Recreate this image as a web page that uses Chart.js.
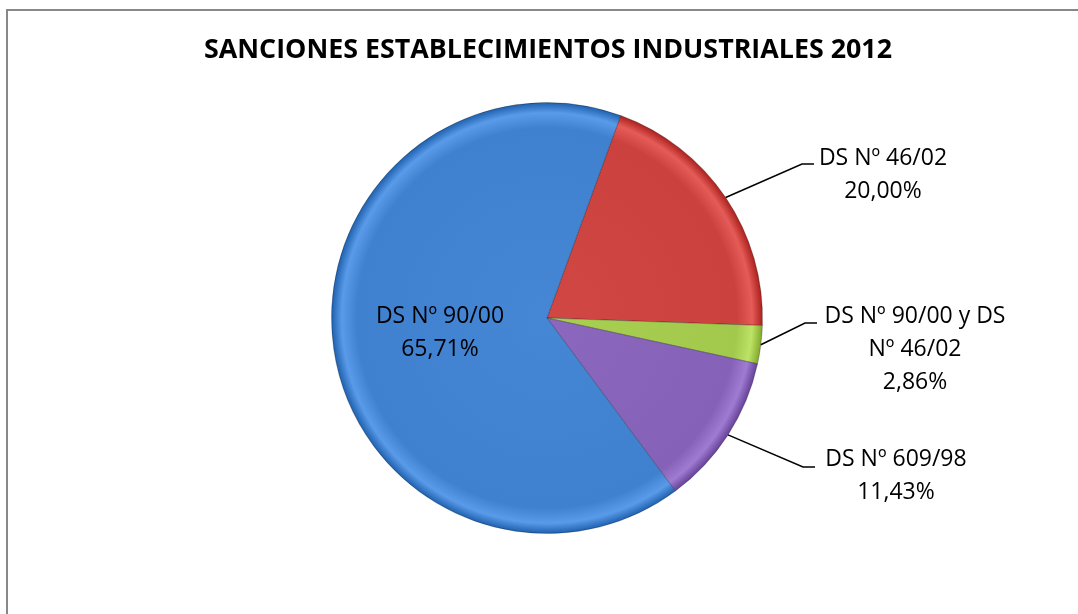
<!DOCTYPE html>
<html>
<head>
<meta charset="utf-8">
<script src="https://cdn.jsdelivr.net/npm/chart.js@4.4.0/dist/chart.umd.min.js"></script>
<style>
  body { margin: 0; background: #fff; }
  canvas { display: block; }
</style>
</head>
<body>
<canvas id="pieChart" width="1078" height="614"></canvas>
<script>
// data (counts, total 35)
var chartTitle = 'SANCIONES ESTABLECIMIENTOS INDUSTRIALES 2012';
var labels = ['DS Nº 46/02', ['DS Nº 90/00 y DS', 'Nº 46/02'], 'DS Nº 609/98', 'DS Nº 90/00'];
var counts = [7, 1, 4, 23];
var colors = ['#cb413e', '#a2c94c', '#8661b8', '#3f80cf'];

// where each label goes: outside with a leader line, or inside the slice
var labelPlaces = [
    { elbowX: 802, elbowY: 164, textX: 883, textY: 158 },
    { elbowX: 805, elbowY: 323, textX: 915, textY: 316 },
    { elbowX: 803, elbowY: 467, textX: 896, textY: 459 },
    { inside: true, textX: 440, textY: 316 }
];

var total = counts.reduce(function (a, b) { return a + b; }, 0);

function pctText(v) {
    return (v / total * 100).toFixed(2).replace('.', ',') + '%';
}

function shade(hex, amt) {
    var n = parseInt(hex.slice(1), 16);
    var r = (n >> 16) & 255, g = (n >> 8) & 255, b = n & 255;
    function f(c) { return Math.max(0, Math.min(255, Math.round(c + amt))); }
    return 'rgb(' + f(r) + ',' + f(g) + ',' + f(b) + ')';
}

// bevel-ish fill: flat body, light rim, dark edge
function sliceFill(context) {
    var chart = context.chart;
    var base = colors[context.dataIndex];
    var area = chart.chartArea;
    if (!area) return base;
    var cx = (area.left + area.right) / 2;
    var cy = (area.top + area.bottom) / 2;
    var r = Math.min(area.right - area.left, area.bottom - area.top) / 2;
    var g = chart.ctx.createRadialGradient(cx, cy, 0, cx, cy, r);
    g.addColorStop(0, shade(base, 6));
    g.addColorStop(0.88, base);
    g.addColorStop(0.95, shade(base, 26));
    g.addColorStop(1, shade(base, -35));
    return g;
}

var framePlugin = {
    id: 'frame',
    beforeDraw: function (chart) {
        var ctx = chart.ctx;
        ctx.save();
        ctx.strokeStyle = '#888';
        ctx.lineWidth = 2;
        ctx.strokeRect(7, 10, 1200, 800);
        ctx.fillStyle = '#000';
        ctx.font = 'bold 27px "Open Sans"';
        ctx.textAlign = 'center';
        ctx.textBaseline = 'middle';
        ctx.fillText(chartTitle, 548, 50, 688);
        ctx.restore();
    },
    afterDraw: function (chart) {
        var ctx = chart.ctx;
        var meta = chart.getDatasetMeta(0);
        ctx.save();
        ctx.font = '23px "Open Sans"';
        ctx.fillStyle = '#000';
        ctx.textAlign = 'center';
        ctx.textBaseline = 'middle';
        meta.data.forEach(function (arc, i) {
            var place = labelPlaces[i];
            var lines = [].concat(labels[i]);
            lines.push(pctText(counts[i]));
            if (!place.inside) {
                var mid = (arc.startAngle + arc.endAngle) / 2;
                var sx = arc.x + Math.cos(mid) * arc.outerRadius;
                var sy = arc.y + Math.sin(mid) * arc.outerRadius;
                ctx.strokeStyle = '#000';
                ctx.lineWidth = 1.5;
                ctx.beginPath();
                ctx.moveTo(sx, sy);
                ctx.lineTo(place.elbowX, place.elbowY);
                ctx.lineTo(place.elbowX + 12, place.elbowY);
                ctx.stroke();
            }
            lines.forEach(function (t, k) {
                ctx.fillText(t, place.textX, place.textY + k * 33);
            });
        });
        ctx.restore();
    }
};

var ctx = document.getElementById('pieChart').getContext('2d');
var chart = new Chart(ctx, {
    type: 'pie',
    data: {
        labels: labels,
        datasets: [{
            data: counts,
            backgroundColor: sliceFill,
            borderColor: 'rgba(0,0,0,0.25)',
            borderWidth: 1
        }]
    },
    options: {
        responsive: false,
        animation: false,
        rotation: 20,
        layout: {
            padding: { top: 102, bottom: 80, left: 331, right: 315 }
        },
        plugins: {
            legend: { display: false },
            title: { display: false },
            tooltip: { enabled: false }
        }
    },
    plugins: [framePlugin]
});
</script>
</body>
</html>
